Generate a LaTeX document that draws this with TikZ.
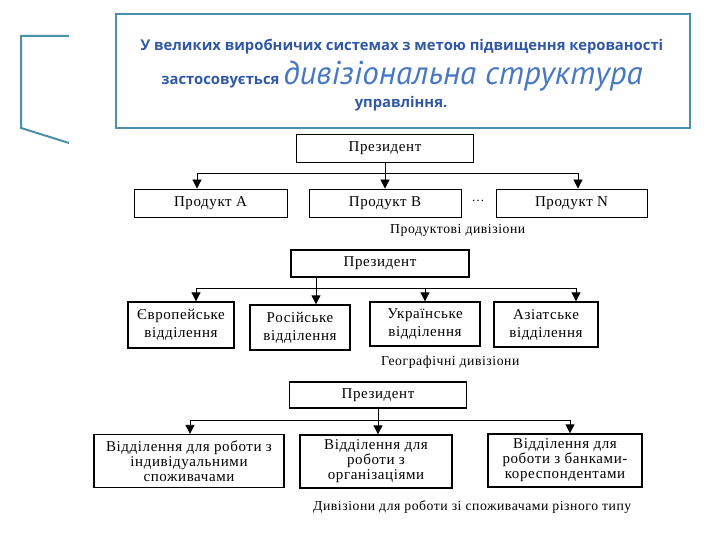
\documentclass[tikz,border=0pt]{standalone}
\usepackage{fontspec}
\setmainfont{Liberation Serif}
\newfontfamily\titlefont{Open Sans}
\newfontfamily\bigfont{PT Sans}
\newfontfamily\diafont[LetterSpace=4]{Liberation Serif}
\usetikzlibrary{arrows.meta}
\definecolor{teal1}{RGB}{75,143,168}
\definecolor{tblue}{RGB}{48,88,165}
\definecolor{bblue}{RGB}{72,120,192}
\begin{document}
\begin{tikzpicture}[x=1pt,y=-1pt,
  box/.style={draw=black, line width=0.8pt, inner sep=0pt, align=center,
    font=\diafont\fontsize{15}{15}\selectfont},
  boxb/.style={box, line width=1.3pt},
  twoline/.style={font=\diafont\fontsize{15}{18}\selectfont},
  arr/.style={-{Triangle[width=9pt,length=9pt]}, line width=0.8pt},
  ln/.style={line width=0.8pt},
  captxt/.style={anchor=west, inner sep=0pt, font=\diafont\fontsize{13.7}{15}\selectfont},
  ttxt/.style={inner sep=0pt, text=tblue, font=\titlefont\bfseries\fontsize{14.8}{16}\selectfont}
]
\useasboundingbox (0,0) rectangle (720,540);
% title area
\draw[teal1, line width=2pt] (69,36) -- (21,36) -- (21,128) -- (69,143);
\node[draw=teal1, line width=2pt, minimum width=574pt, minimum height=114pt, inner sep=0pt] (title) at (403,71) {};
\node[ttxt] (t1) at (402,47) {У великих виробничих системах з метою підвищення керованості};
\node[ttxt, anchor=base] (t2) at (402,85) {застосовується {\bigfont\itshape\mdseries\color{bblue}\fontsize{33}{36}\selectfont дивізіональна структура}};
\node[ttxt] (t3) at (401,104) {управління.};

% diagram 1
\node[box, minimum width=177pt, minimum height=28pt] (p1) at (385,148) {Президент};
\node[box, minimum width=153pt, minimum height=28pt] (a1) at (210.5,203) {Продукт А};
\node[box, minimum width=152pt, minimum height=28pt] (b1) at (385,203) {Продукт В};
\node[box, minimum width=151pt, minimum height=28pt] (n1) at (571.5,203) {Продукт N};
\node[inner sep=0pt, font=\diafont\fontsize{13}{16}\selectfont] (dots) at (478,201) {\dots};
\coordinate (l1) at (197,173);
\coordinate (r1) at (578,173);
\draw[ln] (l1) -- (r1);
\draw[arr] (p1) -- (b1);
\draw[arr] (l1) -- (l1 |- a1.north);
\draw[arr] (r1) -- (r1 |- n1.north);
\node[captxt] (c1cap) at (390,230) {Продуктові дивізіони};

% diagram 2
\node[boxb, minimum width=178pt, minimum height=27pt] (p2) at (380,263.5) {Президент};
\node[boxb, twoline, minimum width=106pt, minimum height=46pt] (e2) at (181,325) {Європейське\\відділення};
\node[boxb, twoline, minimum width=100pt, minimum height=45pt] (r2) at (300,327.5) {Російське\\відділення};
\node[boxb, twoline, minimum width=110pt, minimum height=44pt] (u2) at (425,324) {Українське\\відділення};
\node[boxb, twoline, minimum width=104pt, minimum height=45pt] (s2) at (546,324.5) {Азіатське\\відділення};
\coordinate (l2) at (196,288);
\coordinate (m2) at (316,288);
\coordinate (k2) at (425,288);
\coordinate (q2) at (576,288);
\draw[ln] (l2) -- (q2);
\draw[arr] (p2.south -| m2) -- (m2 |- r2.north);
\draw[arr] (l2) -- (l2 |- e2.north);
\draw[arr] (k2) -- (k2 |- u2.north);
\draw[arr] (q2) -- (q2 |- s2.north);
\node[captxt] (c2cap) at (381,362) {Географічні дивізіони};

% diagram 3
\node[boxb, minimum width=177pt, minimum height=26pt] (p3) at (378,395) {Президент};
\node[boxb, minimum width=190pt, minimum height=53pt] (d1) at (189,461) {Відділення для роботи з\\індивідуальними\\споживачами};
\node[boxb, minimum width=152pt, minimum height=53pt] (d2) at (376,461.5) {Відділення для\\роботи з\\організаціями};
\node[boxb, minimum width=154pt, minimum height=53pt] (d3) at (565,460.5) {Відділення для\\роботи з банками-\\кореспондентами};
\coordinate (l3) at (190,420);
\coordinate (m3) at (378,420);
\coordinate (q3) at (570,420);
\draw[ln] (l3) -- (q3);
\draw[arr] (p3.south -| m3) -- (m3 |- d2.north);
\draw[arr] (l3) -- (l3 |- d1.north);
\draw[arr] (q3) -- (q3 |- d3.north);
\node[captxt] (c3cap) at (313,507) {Дивізіони для роботи зі споживачами різного типу};
\end{tikzpicture}
\end{document}
